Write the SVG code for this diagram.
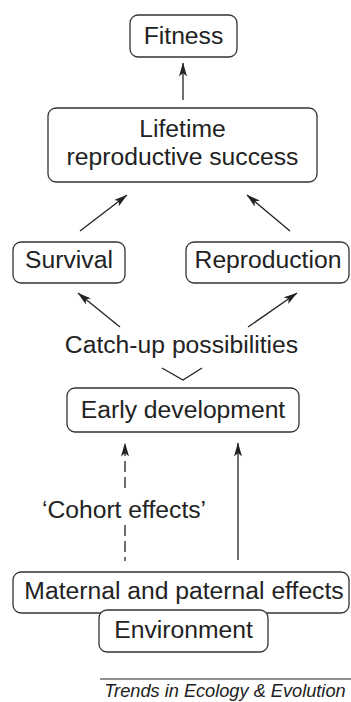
<svg xmlns="http://www.w3.org/2000/svg" width="351" height="702" viewBox="0 0 351 702">
<defs>
<marker id="ah" markerWidth="14" markerHeight="8" refX="13.5" refY="4" orient="auto" markerUnits="userSpaceOnUse">
<path d="M0,0 L14,4 L0,8 L3.5,4 z" fill="#222"/>
</marker>
<style>
rect.box{fill:#fff;stroke:#333;stroke-width:1.3}
text{font-family:"Liberation Sans",Arial,sans-serif;font-size:24.7px;fill:#222;text-anchor:middle}
.conn line,.conn polyline{stroke:#222;stroke-width:1.3;fill:none}
.dash{stroke-dasharray:11 5}
.foot{font-size:18.2px;font-style:italic}
</style>
</defs>
<rect width="351" height="702" fill="#fff"/>
<g class="conn" id="connectors">
<line x1="183" y1="100" x2="183" y2="63" marker-end="url(#ah)"/>
<line x1="80" y1="231" x2="127" y2="195" marker-end="url(#ah)"/>
<line x1="290" y1="231" x2="247" y2="195" marker-end="url(#ah)"/>
<line x1="120" y1="327" x2="78" y2="293" marker-end="url(#ah)"/>
<line x1="248" y1="327" x2="297" y2="293" marker-end="url(#ah)"/>
<polyline points="162,368 183,380 202,368"/>
<line class="dash" x1="125" y1="488" x2="125" y2="443" marker-end="url(#ah)"/>
<line class="dash" x1="125" y1="525" x2="125" y2="561"/>
<line x1="238" y1="560" x2="238" y2="443" marker-end="url(#ah)"/>
</g>
<g id="fitness"><rect class="box" x="130" y="15" width="107" height="42" rx="8"/><text x="183.5" y="44">Fitness</text></g>
<g id="lrs"><rect class="box" x="48" y="108" width="269" height="74" rx="8"/><text x="182.5" y="137">Lifetime</text><text x="182.5" y="165">reproductive success</text></g>
<g id="survival"><rect class="box" x="13" y="242" width="112" height="41" rx="8"/><text x="69" y="268">Survival</text></g>
<g id="reproduction"><rect class="box" x="186" y="242" width="163" height="41" rx="8"/><text x="268" y="268">Reproduction</text></g>
<g id="catchup"><text x="181.5" y="353">Catch-up possibilities</text></g>
<g id="early"><rect class="box" x="67" y="388" width="232" height="44" rx="8"/><text x="183" y="418">Early development</text></g>
<g id="cohort"><text x="124" y="518">‘Cohort effects’</text></g>
<g id="maternal"><rect class="box" x="13" y="572" width="336" height="41" rx="8"/><text x="184" y="599">Maternal and paternal effects</text></g>
<g id="environment"><rect class="box" x="99" y="610" width="169" height="42" rx="8"/><text x="183.5" y="638">Environment</text></g>
<g id="footer"><line x1="100" y1="679" x2="351" y2="679" stroke="#222" stroke-width="1"/><text class="foot" x="225" y="697">Trends in Ecology &amp; Evolution</text></g>
</svg>
